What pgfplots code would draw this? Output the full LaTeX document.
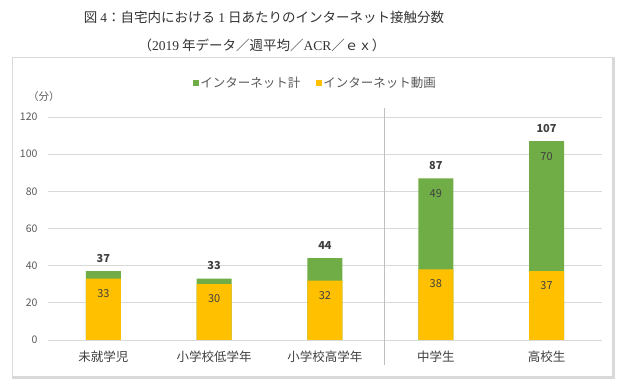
\documentclass[border=0pt]{standalone}
\usepackage{pgfplots}
\pgfplotsset{compat=1.18}
\usepackage{fontspec}
\setmainfont{Noto Sans CJK JP}
\newfontfamily\tser{Liberation Serif}
\definecolor{cgreen}{HTML}{70AD47}
\definecolor{corange}{HTML}{FFC000}
\definecolor{gridgray}{HTML}{D9D9D9}
\definecolor{tickgray}{HTML}{595959}
\definecolor{labgray}{HTML}{404040}
\definecolor{titlegray}{HTML}{333333}
\definecolor{sepgray}{HTML}{BFBFBF}
\begin{document}
\begin{tikzpicture}
\useasboundingbox (0,0) rectangle (622pt,385pt);
% chart frame
\draw[gridgray, line width=0.8pt] (12pt,8pt) rectangle (613pt,328pt);
\draw[gridgray, line width=2.5pt] (12pt,7.5pt) -- (613.5pt,7.5pt) -- (613.5pt,328pt);
% titles
\node[text=titlegray, font=\fontsize{13.5}{16}\selectfont] at (264pt,368pt) {図 {\tser 4}：自宅内における {\tser 1} 日あたりのインターネット接触分数};
\node[text=titlegray, font=\fontsize{13.5}{16}\selectfont] at (262pt,340pt) {（{\tser 2019} 年データ／週平均／{\tser ACR}／ｅｘ）};
\node[text=tickgray, font=\fontsize{10.5}{12}\selectfont, anchor=west, inner sep=0pt] at (28pt,288pt) {（分）};
\begin{axis}[
  at={(48pt,45pt)}, anchor=south west,
  scale only axis, width=554pt, height=223pt,
  xmin=-0.5, xmax=4.5, ymin=0, ymax=120,
  ytick={0,20,...,120},
  xtick={0,1,2,3,4},
  xticklabels={未就学児,小学校低学年,小学校高学年,中学生,高校生},
  axis line style={draw=none},
  major tick length=0pt,
  ymajorgrids, grid style={color=gridgray, line width=0.8pt},
  /pgf/number format/assume math mode=true,
  yticklabel style={font=\fontsize{10.5}{12}\selectfont, text=tickgray, xshift=-7pt},
  xticklabel style={font=\fontsize{12.5}{14}\selectfont, text=labgray, yshift=-7pt},
  ybar, bar width=35pt,
  clip=false,
  legend image code/.code={\fill[#1] (0pt,-3pt) rectangle (6pt,3pt);},
  legend style={draw=none, fill=none, legend columns=2,
    at={(0.482,1.152)}, anchor=center,
    font=\fontsize{12.5}{14}\selectfont, text=tickgray,
    /tikz/every even column/.append style={column sep=14pt},
    inner sep=0pt, nodes={inner sep=1.5pt}},
]
% total (green) bars, total labels above
\addplot[ybar, bar shift=0pt, fill=cgreen, draw=none, point meta=explicit symbolic,
  nodes near coords,
  every node near coord/.append style={anchor=base, inner sep=0pt, yshift=9pt, font=\bfseries\fontsize{11}{13}\selectfont, text=labgray}]
  coordinates {(0,37) [37] (1,33) [33] (2,44) [44] (3,87) [87] (4,107) [107]};
\addlegendentry{インターネット計}
% video (orange) bars drawn over the green ones
\addplot[ybar, bar shift=0pt, fill=corange, draw=none, point meta=explicit symbolic,
  nodes near coords,
  every node near coord/.append style={anchor=base, inner sep=0pt, yshift=-18.5pt, font=\fontsize{11}{13}\selectfont, text=labgray}]
  coordinates {(0,33) [33] (1,30) [30] (2,32) [32] (3,38) [38] (4,37) [37]};
\addlegendentry{インターネット動画}
% labels of the green segments
\addplot[ybar, bar shift=0pt, draw=none, fill=none, forget plot, point meta=explicit symbolic,
  nodes near coords,
  every node near coord/.append style={anchor=base, inner sep=0pt, yshift=-19pt, font=\fontsize{11}{13}\selectfont, text=labgray}]
  coordinates {(3,87) [49] (4,107) [70]};
\draw[sepgray, line width=0.8pt] (axis cs:2.54,-13.5) -- (axis cs:2.54,125);
\end{axis}
\end{tikzpicture}
\end{document}
